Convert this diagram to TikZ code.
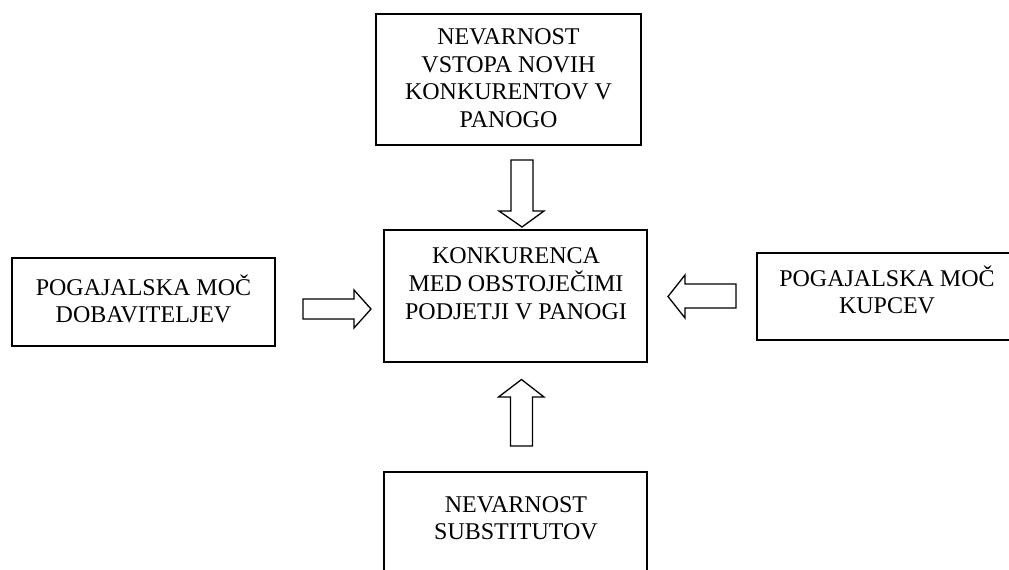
\documentclass[tikz,border=0pt]{standalone}
\usepackage{fontspec}
\setmainfont{Liberation Serif}
\begin{document}
\begin{tikzpicture}[x=1pt,y=-1pt,
  box/.style={draw=black, line width=1.7pt, inner sep=0pt, outer sep=0pt, minimum width=263pt},
  label/.style={anchor=base, inner sep=0pt, font=\fontsize{24}{27.6}\selectfont},
  blockarrow/.style={draw=black, line width=1.3pt, fill=white, line join=miter}]
\useasboundingbox (0,0) rectangle (1009,570);
\clip (0,0) rectangle (1009,570);
% boxes
\node[box, minimum width=265pt, minimum height=131pt] (entry) at (508.5,79.5) {};
\node[box, minimum height=132pt] (rivalry) at (515.5,296) {};
\node[box, minimum height=88pt] (suppliers) at (143.5,302) {};
\node[box, minimum height=87pt] (buyers) at (888.5,296.5) {};
\node[box, minimum height=132pt] (substitutes) at (515.5,538) {};
% texts
\newcommand{\lines}[1]{\begin{tabular}[t]{@{}c@{}}#1\end{tabular}}
\node[label] (entrytext) at (508.5,44.5) {\lines{NEVARNOST\\VSTOPA NOVIH\\KONKURENTOV V\\PANOGO}};
\node[label] (rivalrytext) at (516,263) {\lines{KONKURENCA\\MED OBSTOJEČIMI\\PODJETJI V PANOGI}};
\node[label] (supplierstext) at (143.5,295) {\lines{POGAJALSKA MOČ\\DOBAVITELJEV}};
\node[label] (buyerstext) at (887,286) {\lines{POGAJALSKA MOČ\\KUPCEV}};
\node[label] (substitutestext) at (516,512) {\lines{NEVARNOST\\SUBSTITUTOV}};
% block arrows
\coordinate (topTip) at (522,227);
\coordinate (botTip) at (521.5,379.5);
\coordinate (leftTip) at (371,309);
\coordinate (rightTip) at (668,296.5);
\draw[blockarrow] (511,160) -- (533,160) -- (533,211) -- (544,211) -- (topTip) -- (499,211) -- (511,211) -- cycle;
\draw[blockarrow] (510.5,446) -- (532.5,446) -- (532.5,397) -- (544,397) -- (botTip) -- (498.5,397) -- (510.5,397) -- cycle;
\draw[blockarrow] (303,299) -- (354,299) -- (354,290) -- (leftTip) -- (354,328) -- (354,319) -- (303,319) -- cycle;
\draw[blockarrow] (736,284) -- (685,284) -- (685,275) -- (rightTip) -- (685,318) -- (685,308) -- (736,308) -- cycle;
\end{tikzpicture}
\end{document}
